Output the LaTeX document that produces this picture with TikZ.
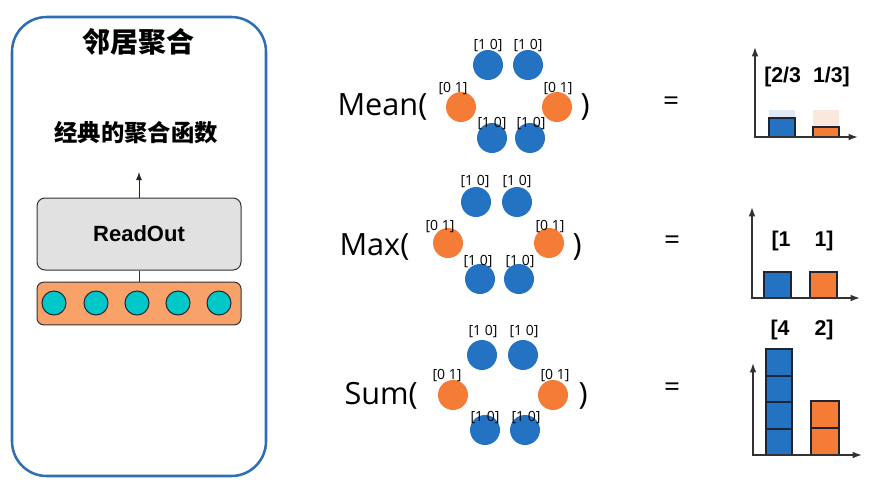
\documentclass[tikz,border=0pt]{standalone}
\usepackage{fontspec}
\setmainfont{Open Sans}
\newfontfamily\cjk{Noto Sans CJK SC}
\newfontfamily\helv{Liberation Sans}
\usetikzlibrary{arrows.meta}

\definecolor{panelblue}{RGB}{45,110,180}
\definecolor{nodeblue}{RGB}{36,114,194}
\definecolor{nodeorange}{RGB}{245,124,54}
\definecolor{embedorange}{RGB}{248,162,106}
\definecolor{tealnode}{RGB}{0,200,200}
\definecolor{readgray}{RGB}{225,225,225}
\definecolor{bardark}{RGB}{30,36,52}
\definecolor{axisgray}{RGB}{50,50,50}
\definecolor{blueghost}{RGB}{224,233,246}
\definecolor{orangeghost}{RGB}{251,232,220}

\tikzset{every picture/.style={line width=0.75pt}}
\tikzset{
	bnode/.style={circle,fill=nodeblue,minimum size=22.5pt,inner sep=0pt},
	onode/.style={circle,fill=nodeorange,minimum size=22.5pt,inner sep=0pt},
	vlab/.style={font=\fontsize{10.5}{10.5}\selectfont,inner sep=0pt},
	fname/.style={font=\fontsize{23}{23}\selectfont,inner sep=0pt},
	eqsign/.style={font=\fontsize{21}{21}\selectfont,inner sep=0pt},
	barlab/.style={font=\helv\bfseries\fontsize{16}{16}\selectfont,inner sep=0pt},
	axisline/.style={draw=axisgray,line width=1.1pt,{Latex[length=7pt,width=5pt]}-{Latex[length=7pt,width=5pt]}},
	bar/.style={draw=bardark,line width=1pt},
	readbox/.style={draw=axisgray,fill=readgray,rounded corners=6pt,minimum width=153pt,minimum height=54pt,font=\helv\bfseries\fontsize{16.5}{16.5}\selectfont},
	embbox/.style={draw=axisgray,fill=embedorange,rounded corners=5pt,minimum width=153pt,minimum height=32pt},
	cell/.style={circle,draw=bardark,fill=tealnode,minimum size=18pt,inner sep=0pt}
}

\begin{document}
\begin{tikzpicture}[x=0.75pt,y=0.75pt,yscale=-1,xscale=1]
		\useasboundingbox (0,0) rectangle (873,486);
		
		%Shape: Rounded Rect (left panel)
		\draw [draw=panelblue,line width=1.9pt,rounded corners=26pt] (12,17) rectangle (266,476) ;
		% Text Node
		\node [font=\cjk\bfseries\fontsize{21}{21}\selectfont] (title) at (138,42) {邻居聚合};
		% Text Node
		\node [font=\cjk\bfseries\fontsize{17.5}{17.5}\selectfont] (aggfun) at (136,133) {经典的聚合函数};
		
		\node [readbox] (readout) at (139,234) {ReadOut};
		\node [embbox] (embed) at (139,303.5) {};
		\node [cell] (c1) at (54,303) {};
		\node [cell] (c2) at (96,303) {};
		\node [cell] (c3) at (137,303) {};
		\node [cell] (c4) at (178,303) {};
		\node [cell] (c5) at (219,303) {};
		%Straight Lines
		\draw [draw=axisgray] (embed.north) -- (readout.south) ;
		\coordinate (up) at (139,172);
		\draw [draw=bardark,-{Latex[length=6pt,width=4.5pt]}] (readout.north) -- (up) ;
		
		%Mean row
		\node [fname,anchor=base west] (meanf) at (337,115) {Mean(};
		\node [bnode] (mean-t1) at (488,65) {};
		\node [bnode] (mean-t2) at (528,65) {};
		\node [onode] (mean-l) at (461,107) {};
		\node [onode] (mean-r) at (557,107) {};
		\node [bnode] (mean-b1) at (492,138) {};
		\node [bnode] (mean-b2) at (530,138) {};
		\node [vlab] (mean-t1v) at (488,46) {[1 0]};
		\node [vlab] (mean-t2v) at (528,46) {[1 0]};
		\node [vlab] (mean-lv) at (453,89) {[0 1]};
		\node [vlab] (mean-rv) at (558,89) {[0 1]};
		\node [vlab] (mean-b1v) at (492,124) {[1 0]};
		\node [vlab] (mean-b2v) at (531,124) {[1 0]};
		\node [fname,anchor=base west] (meanc) at (580,115) {)};
		\node [eqsign] (meaneq) at (671,104) {=};
		
		%Max row
		\node [fname,anchor=base west] (maxf) at (339,255) {Max(};
		\node [bnode] (max-t1) at (476,202) {};
		\node [bnode] (max-t2) at (517,202) {};
		\node [onode] (max-l) at (448,243) {};
		\node [onode] (max-r) at (549,243) {};
		\node [bnode] (max-b1) at (480,279) {};
		\node [bnode] (max-b2) at (519,279) {};
		\node [vlab] (max-t1v) at (475,182) {[1 0]};
		\node [vlab] (max-t2v) at (517,182) {[1 0]};
		\node [vlab] (max-lv) at (440,227) {[0 1]};
		\node [vlab] (max-rv) at (550,227) {[0 1]};
		\node [vlab] (max-b1v) at (478,262) {[1 0]};
		\node [vlab] (max-b2v) at (520,262) {[1 0]};
		\node [fname,anchor=base west] (maxc) at (572,255) {)};
		\node [eqsign] (maxeq) at (672,243) {=};
		
		%Sum row
		\node [fname,anchor=base west] (sumf) at (344,404) {Sum(};
		\node [bnode] (sum-t1) at (482,355) {};
		\node [bnode] (sum-t2) at (523,355) {};
		\node [onode] (sum-l) at (453,395) {};
		\node [onode] (sum-r) at (553,395) {};
		\node [bnode] (sum-b1) at (485,430) {};
		\node [bnode] (sum-b2) at (525,430) {};
		\node [vlab] (sum-t1v) at (483,332) {[1 0]};
		\node [vlab] (sum-t2v) at (524,332) {[1 0]};
		\node [vlab] (sum-lv) at (447,376) {[0 1]};
		\node [vlab] (sum-rv) at (555,376) {[0 1]};
		\node [vlab] (sum-b1v) at (485,418) {[1 0]};
		\node [vlab] (sum-b2v) at (526,418) {[1 0]};
		\node [fname,anchor=base west] (sumc) at (578,404) {)};
		\node [eqsign] (sumeq) at (672,390) {=};
		
		%Mean chart
		\fill [blueghost] (769,110) rectangle (795,118) ;
		\fill [orangeghost] (813,110) rectangle (839,127) ;
		\draw [bar,fill=nodeblue] (769,118) rectangle (795,137) ;
		\draw [bar,fill=nodeorange] (813,127) rectangle (839,137) ;
		\draw [axisline] (755,47) -- (755,137) -- (858,137) ;
		\node [barlab] (meanv) at (807,77) {[2/3\hspace{9pt}1/3]};
		
		%Max chart
		\draw [bar,fill=nodeblue] (764,272) rectangle (791,298) ;
		\draw [bar,fill=nodeorange] (810,272) rectangle (837,298) ;
		\draw [axisline] (752,207) -- (752,298) -- (860,298) ;
		\node [barlab] (maxv1) at (781,241) {[1};
		\node [barlab] (maxv2) at (824,241) {1]};
		
		%Sum chart
		\draw [bar,fill=nodeblue] (766,349) rectangle (792,455) ;
		\draw [bar] (766,376) -- (792,376) (766,402) -- (792,402) (766,429) -- (792,429) ;
		\draw [bar,fill=nodeorange] (811,401) rectangle (839,455) ;
		\draw [bar] (811,428) -- (839,428) ;
		\draw [axisline] (753,363) -- (753,455) -- (862,455) ;
		\node [barlab] (sumv1) at (780,330) {[4};
		\node [barlab] (sumv2) at (824,330) {2]};
		
\end{tikzpicture}
\end{document}
